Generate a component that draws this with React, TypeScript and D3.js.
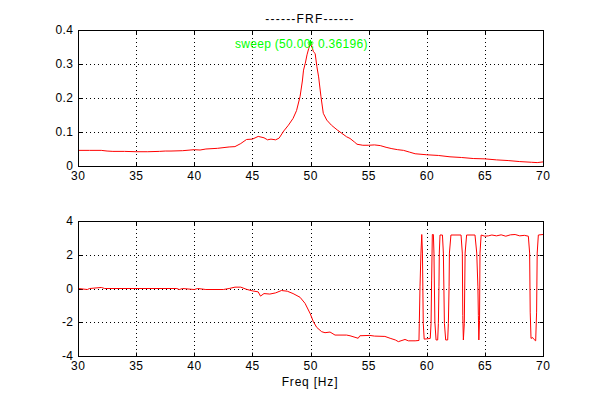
import React from "react";
import * as d3 from "d3";

// ---- Data ----
const magFreq = [30, 31, 32, 32.5, 33, 34, 35, 36, 37, 37.5, 38, 39, 40, 40.5, 41, 42, 43, 43.5, 44, 44.5, 45, 45.5, 46, 46.3, 46.6, 47, 47.3, 47.7, 48.1, 48.5, 48.8, 49.1, 49.3, 49.4, 49.55, 49.7, 49.85, 50, 50.1, 50.25, 50.4, 50.55, 50.7, 50.9, 51.1, 51.4, 51.8, 52.3, 52.7, 53.1, 53.4, 53.8, 54, 54.5, 55, 55.5, 56, 56.5, 57, 57.5, 58, 58.5, 59, 60, 61, 62, 63, 64, 65, 66, 67, 68, 69, 69.5, 70];
const magValue = [0.046, 0.046, 0.046, 0.044, 0.043, 0.043, 0.042, 0.042, 0.043, 0.044, 0.044, 0.045, 0.048, 0.047, 0.05, 0.052, 0.056, 0.057, 0.066, 0.078, 0.079, 0.087, 0.083, 0.077, 0.079, 0.077, 0.082, 0.103, 0.12, 0.14, 0.163, 0.204, 0.25, 0.282, 0.302, 0.327, 0.346, 0.362, 0.354, 0.336, 0.331, 0.292, 0.262, 0.204, 0.155, 0.135, 0.12, 0.106, 0.096, 0.086, 0.081, 0.07, 0.064, 0.061, 0.061, 0.062, 0.06, 0.055, 0.051, 0.048, 0.046, 0.041, 0.036, 0.033, 0.031, 0.027, 0.025, 0.022, 0.021, 0.018, 0.016, 0.013, 0.011, 0.01, 0.012];

const phaseFreq = [30, 30.8, 31, 32, 32.3, 38.5, 38.7, 39, 40, 40.3, 41, 42.5, 43, 43.5, 44, 44.5, 45, 45.5, 45.7, 46, 46.5, 47, 47.5, 48, 48.5, 49.1, 49.53, 49.96, 50.25, 50.53, 50.96, 51.25, 51.68, 52.11, 53.1, 53.4, 54.1, 54.25, 55.1, 55.5, 56.4, 56.85, 57.3, 57.56, 58.13, 58.42, 59.0, 59.33, 59.36, 59.42, 59.5, 59.57, 59.63, 59.7, 59.78, 60.3, 60.37, 60.42, 60.48, 60.57, 60.62, 60.7, 60.8, 60.94, 61.0, 61.05, 61.08, 61.14, 61.35, 61.43, 61.52, 61.63, 61.8, 61.86, 61.92, 61.95, 62.08, 62.95, 63.06, 63.1, 63.15, 63.23, 63.3, 63.43, 64.15, 64.3, 64.4, 64.44, 64.48, 64.54, 64.58, 64.68, 65.0, 65.3, 65.6, 66, 66.4, 66.8, 67.2, 67.6, 68, 68.4, 68.74, 68.85, 68.9, 68.97, 69.1, 69.2, 69.37, 69.45, 69.5, 69.6, 70];
const phaseValue = [0, -0.06, 0, 0.06, 0, 0, -0.06, 0, -0.06, 0, -0.06, -0.06, 0, 0.08, 0.08, -0.05, -0.14, -0.2, -0.45, -0.3, -0.33, -0.26, -0.12, -0.16, -0.3, -0.52, -0.88, -1.47, -1.97, -2.3, -2.56, -2.62, -2.58, -2.76, -2.76, -2.8, -2.95, -2.8, -2.78, -2.82, -2.84, -2.95, -3.05, -3.15, -3.02, -3.1, -3.1, -3.08, -2.07, 0.1, 2.1, 3.2, 2.1, -2.07, -3.0, -2.96, -2.07, 0.5, 3.2, 3.2, 2.1, -2.0, -3.05, -3.05, -2.07, 0.1, 2.1, 3.17, 3.17, 2.1, -2.07, -3.05, -3.05, -2.07, 0.1, 2.1, 3.17, 3.17, 2.1, -1.6, -3.05, -2.07, 2.1, 3.17, 3.17, 2.1, 0.1, -1.6, -3.05, -1.9, 2.1, 3.17, 3.1, 3.12, 3.17, 3.12, 3.18, 3.1, 3.18, 3.2, 3.12, 3.15, 3.1, 2.1, -1.4, -2.96, -2.9, -3.0, -3.1, -1.4, 2.1, 3.17, 3.2];

const xTicks = [30, 35, 40, 45, 50, 55, 60, 65, 70];
const magTicks = [0, 0.1, 0.2, 0.3, 0.4];
const magTickLabels = ["0", "0.1", "0.2", "0.3", "0.4"];
const phaseTicks = [-4, -2, 0, 2, 4];
const phaseTickLabels = ["-4", "-2", "0", "2", "4"];

const peakFreq = 50.0;
const peakMag = 0.36196;
const titleText = "------FRF------";
const annotationText = "sweep (50.00, 0.36196)";
const xLabelText = "Freq [Hz]";

const FONT = "'Liberation Sans', Arial, sans-serif";
const FS = 12;
const LS = 0.4;

type PanelProps = {
  top: number;
  bottom: number;
  xs: number[];
  ys: number[];
  yDomain: [number, number];
  yTicks: number[];
  yLabels: string[];
  children?: React.ReactNode;
};

const LEFT = 78;
const RIGHT = 543;

function Panel({ top, bottom, xs, ys, yDomain, yTicks, yLabels, children }: PanelProps) {
  const x = d3.scaleLinear().domain([30, 70]).range([LEFT, RIGHT]);
  const y = d3.scaleLinear().domain(yDomain).range([bottom, top]);
  const line = d3
    .line<number>()
    .x((_, i) => x(xs[i]))
    .y((d) => y(d));
  const tl = 4;
  const c = (v: number) => Math.round(v) + 0.5;
  return (
    <g>
      {xTicks.slice(1, -1).map((t) => (
        <line key={"gx" + t} x1={c(x(t))} x2={c(x(t))} y1={top} y2={bottom} stroke="#000" strokeWidth={1} strokeDasharray="1,3" />
      ))}
      {yTicks.slice(1, -1).map((t) => (
        <line key={"gy" + t} x1={LEFT} x2={RIGHT} y1={c(y(t))} y2={c(y(t))} stroke="#000" strokeWidth={1} strokeDasharray="1,3" />
      ))}
      {xTicks.map((t) => (
        <g key={"tx" + t}>
          <line x1={c(x(t))} x2={c(x(t))} y1={c(bottom)} y2={c(bottom) - tl} stroke="#000" />
          <line x1={c(x(t))} x2={c(x(t))} y1={c(top)} y2={c(top) + tl} stroke="#000" />
        </g>
      ))}
      {yTicks.map((t) => (
        <g key={"ty" + t}>
          <line x1={c(LEFT)} x2={c(LEFT) + tl} y1={c(y(t))} y2={c(y(t))} stroke="#000" />
          <line x1={c(RIGHT)} x2={c(RIGHT) - tl} y1={c(y(t))} y2={c(y(t))} stroke="#000" />
        </g>
      ))}
      <path d={line(ys) || ""} fill="none" stroke="#ff0000" strokeWidth={1} />
      <rect x={c(LEFT)} y={c(top)} width={Math.round(RIGHT) - Math.round(LEFT)} height={Math.round(bottom) - Math.round(top)} fill="none" stroke="#000" strokeWidth={1} />
      {xTicks.map((t) => (
        <text key={"lx" + t} x={x(t) + LS / 2} y={bottom + 14} textAnchor="middle" fontSize={FS} fontFamily={FONT} fill="#000" letterSpacing={LS}>
          {String(t)}
        </text>
      ))}
      {yTicks.map((t, i) => (
        <text key={"ly" + t} x={LEFT - 5 + LS} y={y(t) + 4} textAnchor="end" fontSize={FS} fontFamily={FONT} fill="#000" letterSpacing={LS}>
          {yLabels[i]}
        </text>
      ))}
      {children}
    </g>
  );
}

export default function App() {
  const xTop = d3.scaleLinear().domain([30, 70]).range([LEFT, RIGHT]);
  const yTop = d3.scaleLinear().domain([0, 0.4]).range([166, 30]);
  const px = xTop(peakFreq);
  const py = yTop(peakMag);
  const s = 3;
  return (
    <svg width={600} height={400} style={{ position: "absolute", left: 0, top: 0, background: "#fff" }}>
      <rect x={0} y={0} width={600} height={400} fill="#fff" />
      <text x={310} y={23} textAnchor="middle" fontSize={FS} fontFamily={FONT} fill="#000" letterSpacing={1.2}>
        {titleText}
      </text>
      <Panel top={30} bottom={166} xs={magFreq} ys={magValue} yDomain={[0, 0.4]} yTicks={magTicks} yLabels={magTickLabels}>
        <text x={235} y={48} fontSize={FS} fontFamily={FONT} fill="#00ff00" letterSpacing={0.3}>
          {annotationText}
        </text>
        <g stroke="#00ff00" strokeWidth={1}>
          <line x1={px - s} x2={px + s} y1={py} y2={py} />
          <line x1={px} x2={px} y1={py - s} y2={py + s} />
          <line x1={px - s + 1} x2={px + s - 1} y1={py - s + 1} y2={py + s - 1} />
          <line x1={px - s + 1} x2={px + s - 1} y1={py + s - 1} y2={py - s + 1} />
        </g>
      </Panel>
      <Panel top={221} bottom={356} xs={phaseFreq} ys={phaseValue} yDomain={[-4, 4]} yTicks={phaseTicks} yLabels={phaseTickLabels} />
      <text x={310} y={386} textAnchor="middle" fontSize={FS} fontFamily={FONT} fill="#000" letterSpacing={0.8}>
        {xLabelText}
      </text>
    </svg>
  );
}
